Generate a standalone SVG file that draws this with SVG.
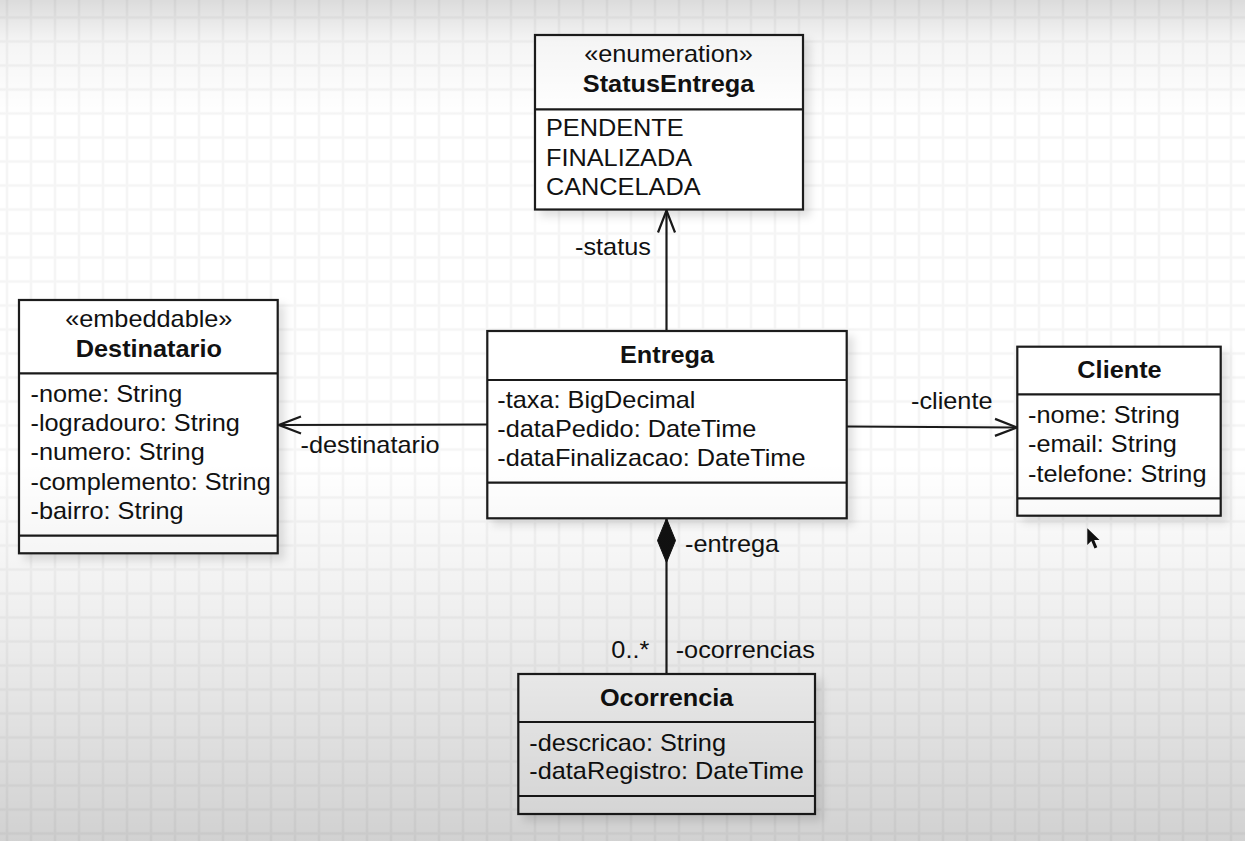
<svg xmlns="http://www.w3.org/2000/svg" width="1245" height="841" viewBox="0 0 1245 841">
  <style>
    .t { font-family: "Liberation Sans", Arial, sans-serif; font-size: 23px; fill: #111; }
    .b { font-weight: bold; }
    .c { text-anchor: middle; }
    .e { text-anchor: end; }
    .box { fill: #ffffff; stroke: #1a1a1a; stroke-width: 2.2; }
    .div { stroke: #1a1a1a; stroke-width: 2.2; fill: none; }
    .conn { stroke: #1a1a1a; stroke-width: 2.2; fill: none; }
  </style>
  <defs>
    <pattern id="grid" patternUnits="userSpaceOnUse" x="-5" y="5.5" width="24" height="24">
      <path d="M12 0V24M0 12H24" stroke="#000" stroke-opacity="0.04" stroke-width="2.5" fill="none"/>
    </pattern>
    <linearGradient id="vig" gradientUnits="userSpaceOnUse" x1="0" y1="0" x2="0" y2="841">
      <stop offset="0" stop-color="#000" stop-opacity="0.14"/>
      <stop offset="0.05" stop-color="#000" stop-opacity="0.04"/>
      <stop offset="0.14" stop-color="#000" stop-opacity="0"/>
      <stop offset="0.55" stop-color="#000" stop-opacity="0"/>
      <stop offset="0.75" stop-color="#000" stop-opacity="0.07"/>
      <stop offset="1" stop-color="#000" stop-opacity="0.18"/>
    </linearGradient>
    <filter id="sh" x="-10%" y="-10%" width="130%" height="130%">
      <feDropShadow dx="6" dy="6" stdDeviation="4" flood-color="#000" flood-opacity="0.12"/>
    </filter>
    <marker id="open" markerUnits="userSpaceOnUse" viewBox="-25 -11 27 22" refX="0" refY="0" markerWidth="27" markerHeight="22" orient="auto">
      <path d="M-22,-8.5 L0,0 L-22,8.5" fill="none" stroke="#1a1a1a" stroke-width="2.2"/>
    </marker>
    <marker id="diamond" markerUnits="userSpaceOnUse" viewBox="-1 -11 47 22" refX="0" refY="0" markerWidth="47" markerHeight="22" orient="auto">
      <path d="M0,0 L22,-9 L44,0 L22,9 Z" fill="#111" stroke="#111" stroke-width="1"/>
    </marker>
  </defs>

  <rect x="0" y="0" width="1245" height="841" fill="#ffffff"/>
  <rect x="0" y="0" width="1245" height="841" fill="url(#grid)"/>

  <g id="connectors">
    <line class="conn" x1="666.5" y1="331" x2="666.5" y2="210.5" marker-end="url(#open)"/>
    <line class="conn" x1="487" y1="424.5" x2="279" y2="425" marker-end="url(#open)"/>
    <line class="conn" x1="847" y1="426.5" x2="1017" y2="427.5" marker-end="url(#open)"/>
    <line class="conn" x1="666.5" y1="518.5" x2="666.5" y2="674" marker-start="url(#diamond)"/>
    <text class="t" transform="translate(575 255) scale(1.1 1)">-status</text>
    <text class="t" transform="translate(300.5 453.3) scale(1.1 1)">-destinatario</text>
    <text class="t" transform="translate(911 409.3) scale(1.1 1)">-cliente</text>
    <text class="t" transform="translate(685 551.7) scale(1.1 1)">-entrega</text>
    <text class="t e" transform="translate(649.3 657.7) scale(1.1 1)">0..*</text>
    <text class="t" transform="translate(675.7 657.7) scale(1.1 1)">-ocorrencias</text>
  </g>

  <g id="StatusEntrega">
    <rect class="box" x="535" y="35" width="268" height="174.5" filter="url(#sh)"/>
    <line class="div" x1="535" y1="109.3" x2="803" y2="109.3"/>
    <text class="t c" transform="translate(668.5 62) scale(1.1 1)">«enumeration»</text>
    <text class="t b c" transform="translate(668.5 92) scale(1.1 1)">StatusEntrega</text>
    <text class="t" transform="translate(546 136.3) scale(1.1 1)">
      <tspan x="0" dy="0">PENDENTE</tspan>
      <tspan x="0" dy="29.3">FINALIZADA</tspan>
      <tspan x="0" dy="29.3">CANCELADA</tspan>
    </text>
  </g>

  <g id="Entrega">
    <rect class="box" x="487.3" y="331" width="359.4" height="187.3" filter="url(#sh)"/>
    <line class="div" x1="487.3" y1="380" x2="846.7" y2="380"/>
    <line class="div" x1="487.3" y1="482.7" x2="846.7" y2="482.7"/>
    <text class="t b c" transform="translate(667 363.3) scale(1.1 1)">Entrega</text>
    <text class="t" transform="translate(497.3 408.3) scale(1.1 1)">
      <tspan x="0" dy="0">-taxa: BigDecimal</tspan>
      <tspan x="0" dy="29">-dataPedido: DateTime</tspan>
      <tspan x="0" dy="29">-dataFinalizacao: DateTime</tspan>
    </text>
  </g>

  <g id="Destinatario">
    <rect class="box" x="19" y="300" width="258.7" height="253.3" filter="url(#sh)"/>
    <line class="div" x1="19" y1="373.3" x2="277.7" y2="373.3"/>
    <line class="div" x1="19" y1="535.7" x2="277.7" y2="535.7"/>
    <text class="t c" transform="translate(148.8 327) scale(1.1 1)">«embeddable»</text>
    <text class="t b c" transform="translate(148.8 356.7) scale(1.1 1)">Destinatario</text>
    <text class="t" transform="translate(30.5 401.5) scale(1.1 1)">
      <tspan x="0" dy="0">-nome: String</tspan>
      <tspan x="0" dy="29.4">-logradouro: String</tspan>
      <tspan x="0" dy="29.4">-numero: String</tspan>
      <tspan x="0" dy="29.4">-complemento: String</tspan>
      <tspan x="0" dy="29.4">-bairro: String</tspan>
    </text>
  </g>

  <g id="Cliente">
    <rect class="box" x="1017.3" y="346.7" width="203.4" height="169" filter="url(#sh)"/>
    <line class="div" x1="1017.3" y1="394.3" x2="1220.7" y2="394.3"/>
    <line class="div" x1="1017.3" y1="498.3" x2="1220.7" y2="498.3"/>
    <text class="t b c" transform="translate(1119.5 378.3) scale(1.1 1)">Cliente</text>
    <text class="t" transform="translate(1028 423) scale(1.1 1)">
      <tspan x="0" dy="0">-nome: String</tspan>
      <tspan x="0" dy="29.3">-email: String</tspan>
      <tspan x="0" dy="29.3">-telefone: String</tspan>
    </text>
  </g>

  <g id="Ocorrencia">
    <rect class="box" x="518.3" y="674" width="296.7" height="140" filter="url(#sh)"/>
    <line class="div" x1="518.3" y1="722" x2="815" y2="722"/>
    <line class="div" x1="518.3" y1="796" x2="815" y2="796"/>
    <text class="t b c" transform="translate(666.7 705.5) scale(1.1 1)">Ocorrencia</text>
    <text class="t" transform="translate(529.3 751) scale(1.1 1)">
      <tspan x="0" dy="0">-descricao: String</tspan>
      <tspan x="0" dy="28.5">-dataRegistro: DateTime</tspan>
    </text>
  </g>

  <path d="M1087.3,528.3 L1087.3,545 L1091.3,541 L1094.5,548.5 L1097.3,547.3 L1094.2,540 L1099.5,540 Z" fill="#111"/>

  <rect x="0" y="0" width="1245" height="841" fill="url(#vig)" pointer-events="none"/>
</svg>
